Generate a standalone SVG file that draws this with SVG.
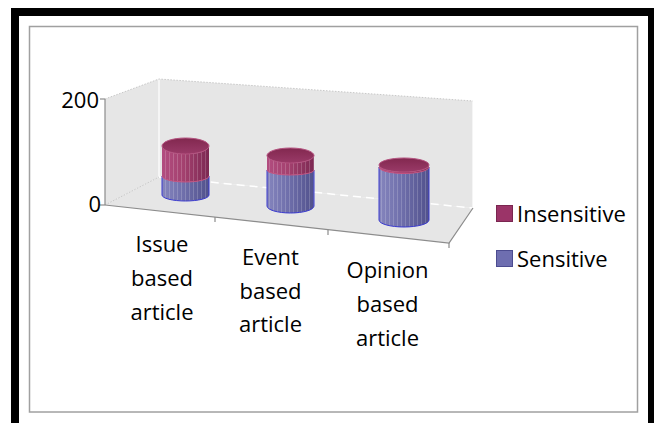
<svg xmlns="http://www.w3.org/2000/svg" width="654" height="423" viewBox="0 0 654 423">
  <defs>
    <linearGradient id="gPinkSide" x1="0" y1="0" x2="1" y2="0">
      <stop offset="0" stop-color="#b24d80"/>
      <stop offset="0.45" stop-color="#a4416f"/>
      <stop offset="1" stop-color="#7c2852"/>
    </linearGradient>
    <linearGradient id="gBlueSide" x1="0" y1="0" x2="1" y2="0">
      <stop offset="0" stop-color="#8585bd"/>
      <stop offset="0.45" stop-color="#6f6fab"/>
      <stop offset="1" stop-color="#51518c"/>
    </linearGradient>
    <linearGradient id="gPinkTop" x1="0" y1="0" x2="0" y2="1">
      <stop offset="0" stop-color="#82284f"/>
      <stop offset="1" stop-color="#9a3a68"/>
    </linearGradient>
    <pattern id="stripes" width="4" height="10" patternUnits="userSpaceOnUse">
      <rect x="1" y="0" width="0.8" height="10" fill="#ffffff" opacity="0.22"/>
    </pattern>
    <style>
      .lbl { font-family: "Open Sans", "Noto Sans", sans-serif; font-size: 22px; fill: #000; font-variant-ligatures: none; }
      .cat { text-anchor: middle; }
      .edge { stroke: #8c8c8c; stroke-width: 1.2; fill: none; }
      .grid { stroke: #c8c8c8; stroke-width: 1; stroke-dasharray: 1.5 1.5; fill: none; }
      .wall { fill: #e6e6e6; }
      .pinkSide { fill: url(#gPinkSide); }
      .blueSide { fill: url(#gBlueSide); }
      .tex { fill: url(#stripes); }
      .blueOut { fill: none; stroke: #3b3bcf; stroke-width: 1; }
      .pinkLine { fill: none; stroke: #c2517f; stroke-width: 1; }
      .cap { fill: url(#gPinkTop); stroke: #b4517f; stroke-width: 1; }
    </style>
  </defs>

  <!-- outer black frame and chart area border -->
  <rect x="0" y="0" width="654" height="423" fill="#ffffff"/>
  <rect x="15" y="12" width="637" height="430" fill="none" stroke="#000" stroke-width="8"/>
  <rect x="29.5" y="26.5" width="608" height="385.5" fill="#ffffff" stroke="#a0a0a0" stroke-width="1.5"/>

  <!-- walls and floor -->
  <g id="walls">
    <polygon class="wall" points="105,99 159,79 159,177 105,205"/>
    <polygon class="wall" points="159,79 473,101 473,208 159,177"/>
    <polygon class="wall" fill="#e9e9e9" points="105,205 159,177 473,208 449,243"/>
    <line x1="159" y1="79" x2="159" y2="177" stroke="#ffffff" stroke-width="1.2"/>
    <line x1="473" y1="101" x2="473" y2="208" stroke="#ffffff" stroke-width="1.2"/>
    <polyline class="grid" points="105,99 159,79 473,101"/>
    <line class="grid" x1="105" y1="205" x2="159" y2="177"/>
    <line x1="159" y1="177" x2="473" y2="208" stroke="#ffffff" stroke-width="1.5" stroke-dasharray="8 5"/>
    <line class="edge" x1="105" y1="99" x2="105" y2="205"/>
    <line class="edge" x1="100" y1="99" x2="105" y2="99"/>
    <line class="edge" x1="100" y1="205" x2="105" y2="205"/>
    <polyline class="edge" points="105,205 449,243 473,208"/>
    <line class="edge" x1="215" y1="217" x2="215" y2="222"/>
    <line class="edge" x1="328" y1="230" x2="328" y2="235"/>
    <line class="edge" x1="449" y1="243" x2="449" y2="248"/>
  </g>

  <!-- value axis labels -->
  <g id="axis-labels">
    <text class="lbl" x="99" y="108" text-anchor="end">200</text>
    <text class="lbl" x="101" y="212" text-anchor="end">0</text>
  </g>

  <!-- Issue based article -->
  <g id="issue">
    <path class="blueSide" d="M162,176 A23.5,6 0 0 0 209,176 L209,195 A23.5,6 0 0 1 162,195 Z"/>
    <path class="tex" d="M162,176 A23.5,6 0 0 0 209,176 L209,195 A23.5,6 0 0 1 162,195 Z"/>
    <path class="blueOut" d="M162,176 L162,195 A23.5,6 0 0 0 209,195 L209,176"/>
    <path class="pinkSide" d="M162,146 A23.5,8 0 0 0 209,146 L209,176 A23.5,6 0 0 1 162,176 Z"/>
    <path class="tex" d="M162,146 A23.5,8 0 0 0 209,146 L209,176 A23.5,6 0 0 1 162,176 Z"/>
    <path class="pinkLine" d="M162,176 A23.5,6 0 0 0 209,176"/>
    <ellipse class="cap" cx="185.5" cy="146" rx="23.5" ry="8"/>
  </g>

  <!-- Event based article -->
  <g id="event">
    <path class="blueSide" d="M267,170 A23.5,5 0 0 0 314,170 L314,206 A23.5,7 0 0 1 267,206 Z"/>
    <path class="tex" d="M267,170 A23.5,5 0 0 0 314,170 L314,206 A23.5,7 0 0 1 267,206 Z"/>
    <path class="blueOut" d="M267,170 L267,206 A23.5,7 0 0 0 314,206 L314,170"/>
    <path class="pinkSide" d="M267,155.5 A23.5,7.5 0 0 0 314,155.5 L314,170 A23.5,5 0 0 1 267,170 Z"/>
    <path class="tex" d="M267,155.5 A23.5,7.5 0 0 0 314,155.5 L314,170 A23.5,5 0 0 1 267,170 Z"/>
    <path class="pinkLine" d="M267,170 A23.5,5 0 0 0 314,170"/>
    <ellipse class="cap" cx="290.5" cy="155.5" rx="23.5" ry="7.5"/>
  </g>

  <!-- Opinion based article -->
  <g id="opinion">
    <path class="blueSide" d="M379,167 A25,6.5 0 0 0 429,167 L429,220 A25,7 0 0 1 379,220 Z"/>
    <path class="tex" d="M379,167 A25,6.5 0 0 0 429,167 L429,220 A25,7 0 0 1 379,220 Z"/>
    <path class="blueOut" d="M379,167 L379,220 A25,7 0 0 0 429,220 L429,167"/>
    <path class="pinkSide" d="M379,165 A25,7 0 0 0 429,165 L429,167 A25,6.5 0 0 1 379,167 Z"/>
    <path class="pinkLine" d="M379,167 A25,6.5 0 0 0 429,167"/>
    <ellipse class="cap" cx="404" cy="165" rx="25" ry="7"/>
  </g>

  <!-- category labels -->
  <g id="categories">
    <text class="lbl cat" x="162" y="252">Issue</text>
    <text class="lbl cat" x="162" y="286">based</text>
    <text class="lbl cat" x="162" y="320">article</text>
    <text class="lbl cat" x="270.5" y="265">Event</text>
    <text class="lbl cat" x="270.5" y="299">based</text>
    <text class="lbl cat" x="270.5" y="332">article</text>
    <text class="lbl cat" x="387.5" y="278">Opinion</text>
    <text class="lbl cat" x="387.5" y="312">based</text>
    <text class="lbl cat" x="387.5" y="346">article</text>
  </g>

  <!-- legend -->
  <g id="legend">
    <rect x="496.5" y="205.5" width="16" height="16" fill="#9b3468" stroke="#7a2650" stroke-width="1"/>
    <text class="lbl" x="517" y="222">Insensitive</text>
    <rect x="496.5" y="250.5" width="16" height="16" fill="#6e6eb0" stroke="#4c4c90" stroke-width="1"/>
    <text class="lbl" x="517" y="267">Sensitive</text>
  </g>
</svg>
